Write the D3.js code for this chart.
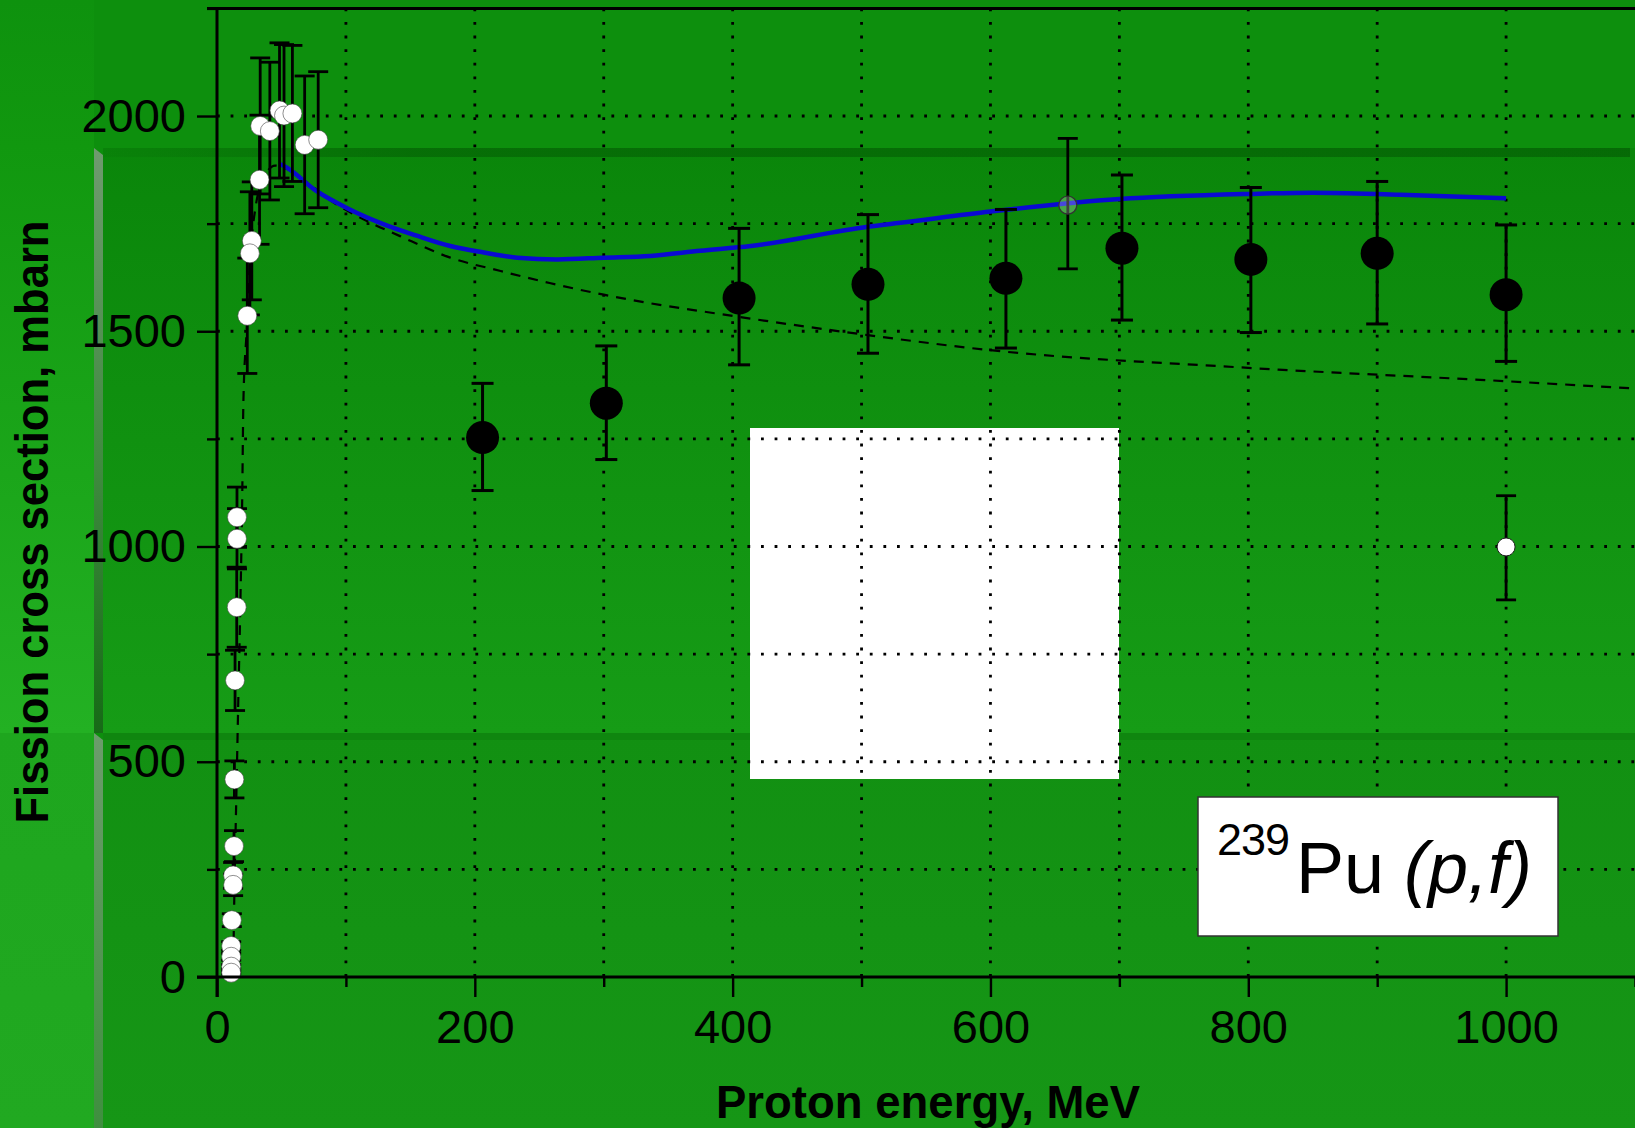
<!DOCTYPE html>
<html>
<head>
<meta charset="utf-8">
<script src="https://cdn.jsdelivr.net/npm/d3@7"></script>
<style>
  html, body { margin: 0; padding: 0; background: #0d8e0d; overflow: hidden; }
  svg { display: block; }
  text { font-family: "Liberation Sans", Arial, Helvetica, sans-serif; }
</style>
</head>
<body>
<svg id="chart" width="1635" height="1128"></svg>
<script>
// ---- Data -------------------------------------------------------------
// Low-energy measurements (open circles): energy MeV, cross section mb, error mb
const lowEnergy = [33.5, 41, 48.5, 52, 58.5, 68, 78.5, 33, 27, 25.5, 23.5,
                   15.5, 15.5, 15.3, 14, 13.5, 13.2, 12.5, 12.5, 11.5, 11, 11, 11, 11];
const lowSigma  = [1977, 1965, 2013, 2001, 2006, 1933, 1945, 1852, 1710, 1681, 1536,
                   1068, 1018, 859, 689, 459, 304, 236, 214, 132, 72, 47, 24, 10];
const lowError  = [158, 160, 157, 165, 158, 160, 158, 150, 137, 143, 134,
                   70, 70, 93, 70, 43, 36, 30, 25, 15, 10, 8, 5, 3];

// High-energy measurements (filled circles) with asymmetric bars
const highEnergy = [206, 302, 405, 505, 612, 702, 802, 900, 1000];
const highSigma  = [1253, 1333, 1577, 1609, 1623, 1693, 1667, 1681, 1585];
const highLow    = [1130, 1202, 1422, 1449, 1461, 1526, 1497, 1517, 1430];
const highHigh   = [1379, 1466, 1739, 1771, 1783, 1863, 1834, 1848, 1747];

// Single hollow point and single open point at 1 GeV
const hollowEnergy = [660];
const hollowSigma  = [1793];
const hollowLow    = [1645];
const hollowHigh   = [1948];
const gevEnergy = [1000];
const gevSigma  = [999];
const gevLow    = [876];
const gevHigh   = [1118];

// Systematics curve (dashed)
const dashEnergy = [12.5, 13.5, 15, 16.5, 18, 19.5, 20.5, 23, 26, 30, 37, 45, 52, 70, 90,
                    111, 142, 181, 220, 258, 300, 336, 388, 500, 600, 800, 1000, 1100];
const dashSigma  = [0, 200, 420, 640, 850, 1100, 1340, 1500, 1680, 1790, 1860, 1885, 1880, 1845, 1800,
                    1764, 1721, 1671, 1640, 1612, 1585, 1565, 1541, 1493, 1456, 1415, 1384, 1367];

// Model calculation (blue)
const modelEnergy = [49, 52, 77, 103, 129, 155, 181, 207, 233, 264, 300, 336, 375, 414,
                     505, 530, 600, 700, 800, 850, 918, 1000];
const modelSigma  = [1888, 1884, 1826, 1783, 1749, 1722, 1698, 1683, 1671, 1667, 1671, 1675, 1687, 1698,
                     1743, 1752, 1778, 1807, 1819, 1822, 1817, 1809];

// Axis ticks
const xMajorTicks = [0, 200, 400, 600, 800, 1000];
const xMinorTicks = [100, 300, 500, 700, 900, 1100];
const yMajorTicks = [0, 500, 1000, 1500, 2000];
const yMinorTicks = [250, 750, 1250, 1750, 2250];
const xGrid = [100, 200, 300, 400, 500, 600, 700, 800, 900, 1000];
const yGrid = [250, 500, 750, 1000, 1250, 1500, 1750, 2000];

// ---- Scales -----------------------------------------------------------
const W = 1635, H = 1128;
const x = d3.scaleLinear().domain([0, 1100]).range([217, 1635]);
const y = d3.scaleLinear().domain([0, 2250]).range([977, 8.4]);

const svg = d3.select("#chart");
const defs = svg.append("defs");

function vGrad(id, stops) {
  const g = defs.append("linearGradient").attr("id", id)
    .attr("x1", 0).attr("y1", 0).attr("x2", 0).attr("y2", 1);
  stops.forEach(s => g.append("stop").attr("offset", s[0]).attr("stop-color", s[1]));
}
function hGrad(id, stops) {
  const g = defs.append("linearGradient").attr("id", id)
    .attr("x1", 0).attr("y1", 0).attr("x2", 1).attr("y2", 0);
  stops.forEach(s => g.append("stop").attr("offset", s[0]).attr("stop-color", s[1])
    .attr("stop-opacity", s[2] === undefined ? 1 : s[2]));
}

vGrad("leftUpper", [[0, "#0e920e"], [0.2, "#11980f"], [1, "#23b123"]]);
vGrad("leftLower", [[0, "#1ea61e"], [1, "#21a921"]]);
vGrad("mainMid", [[0, "#0a860a"], [1, "#169c16"]]);
vGrad("mainLow", [[0, "#129012"], [1, "#169616"]]);
vGrad("barUpper", [[0, "#6f9a6f"], [0.55, "#3f8a3f"], [0.95, "#1a6e1a"], [1, "#176a17"]]);
vGrad("barLower", [[0, "#6c9c6c"], [1, "#3f8f3f"]]);
hGrad("band", [[0, "#045f04", 0.1], [0.2, "#045f04", 0.6], [1, "#045f04", 0.7]]);

// ---- Slide background -------------------------------------------------
const bg = svg.append("g");
bg.append("rect").attr("x", 0).attr("y", 0).attr("width", W).attr("height", H).attr("fill", "#0d8f0d");
bg.append("rect").attr("x", 0).attr("y", 0).attr("width", 94).attr("height", 733).attr("fill", "url(#leftUpper)");
bg.append("rect").attr("x", 0).attr("y", 733).attr("width", 94).attr("height", H - 733).attr("fill", "url(#leftLower)");
bg.append("rect").attr("x", 103).attr("y", 148).attr("width", W - 103).attr("height", 585).attr("fill", "url(#mainMid)");
bg.append("rect").attr("x", 103).attr("y", 733).attr("width", W - 103).attr("height", H - 733).attr("fill", "url(#mainLow)");
bg.append("rect").attr("x", 103).attr("y", 148).attr("width", 1527).attr("height", 9).attr("fill", "url(#band)");
bg.append("rect").attr("x", 103).attr("y", 733).attr("width", W - 103).attr("height", 7).attr("fill", "#0f860f");
bg.append("polygon").attr("points", "94,148 103,155 103,733 94,733").attr("fill", "url(#barUpper)");
bg.append("polygon").attr("points", "94,733 103,740 103,1128 94,1128").attr("fill", "url(#barLower)");

// ---- White inset panel ------------------------------------------------
svg.append("rect").attr("x", 750).attr("y", 428).attr("width", 369).attr("height", 351).attr("fill", "#ffffff");

// ---- Dotted grid ------------------------------------------------------
const grid = svg.append("g").attr("stroke", "#000").attr("stroke-width", 2.8)
  .attr("stroke-dasharray", "2.8 10.8");
grid.selectAll("line.vg").data(xGrid).join("line").attr("class", "vg")
  .attr("x1", d => x(d)).attr("x2", d => x(d)).attr("y1", y(2250)).attr("y2", y(0));
grid.selectAll("line.hg").data(yGrid).join("line").attr("class", "hg")
  .attr("x1", x(0)).attr("x2", W).attr("y1", d => y(d)).attr("y2", d => y(d));

// ---- Curves -----------------------------------------------------------
const curve = d3.line().x(d => x(d[0])).y(d => y(d[1])).curve(d3.curveMonotoneX);
svg.append("path")
  .attr("d", curve(d3.zip(dashEnergy, dashSigma)))
  .attr("fill", "none").attr("stroke", "#000").attr("stroke-width", 2.2)
  .attr("stroke-dasharray", "10 8");

svg.append("path")
  .attr("d", curve(d3.zip(modelEnergy, modelSigma)))
  .attr("fill", "none").attr("stroke", "#0a0ad2").attr("stroke-width", 4.5);

// ---- Error bars -------------------------------------------------------
function errorBars(g, E, lo, hi, cap, sw) {
  const rows = E.map((e, i) => ({ e, lo: lo[i], hi: hi[i] }));
  const eb = g.append("g").attr("stroke", "#000").attr("stroke-width", sw);
  eb.selectAll("line.v").data(rows).join("line")
    .attr("x1", d => x(d.e)).attr("x2", d => x(d.e))
    .attr("y1", d => y(d.hi)).attr("y2", d => y(d.lo));
  eb.selectAll("line.t").data(rows).join("line")
    .attr("x1", d => x(d.e) - cap / 2).attr("x2", d => x(d.e) + cap / 2)
    .attr("y1", d => y(d.hi)).attr("y2", d => y(d.hi));
  eb.selectAll("line.b").data(rows).join("line")
    .attr("x1", d => x(d.e) - cap / 2).attr("x2", d => x(d.e) + cap / 2)
    .attr("y1", d => y(d.lo)).attr("y2", d => y(d.lo));
}

const marks = svg.append("g");
errorBars(marks, lowEnergy,
  lowSigma.map((s, i) => s - lowError[i]),
  lowSigma.map((s, i) => s + lowError[i]), 20, 2.8);
errorBars(marks, highEnergy, highLow, highHigh, 22, 3);
errorBars(marks, hollowEnergy, hollowLow, hollowHigh, 20, 2.8);
errorBars(marks, gevEnergy, gevLow, gevHigh, 20, 2.8);

// ---- Points -----------------------------------------------------------
marks.selectAll("circle.low").data(d3.zip(lowEnergy, lowSigma)).join("circle")
  .attr("class", "low").attr("cx", d => x(d[0])).attr("cy", d => y(d[1])).attr("r", 9.5)
  .attr("fill", "#fff").attr("stroke", "#444").attr("stroke-width", 0.6);

marks.selectAll("circle.high").data(d3.zip(highEnergy, highSigma)).join("circle")
  .attr("class", "high").attr("cx", d => x(d[0])).attr("cy", d => y(d[1])).attr("r", 16.5)
  .attr("fill", "#000");

marks.selectAll("circle.hollow").data(d3.zip(hollowEnergy, hollowSigma)).join("circle")
  .attr("class", "hollow").attr("cx", d => x(d[0])).attr("cy", d => y(d[1])).attr("r", 9)
  .attr("fill", "rgba(255,255,255,0.25)").attr("stroke", "#333").attr("stroke-width", 1.3);

marks.selectAll("circle.gev").data(d3.zip(gevEnergy, gevSigma)).join("circle")
  .attr("class", "gev").attr("cx", d => x(d[0])).attr("cy", d => y(d[1])).attr("r", 9)
  .attr("fill", "#fff").attr("stroke", "#222").attr("stroke-width", 1);

// ---- Axes -------------------------------------------------------------
const axes = svg.append("g");
const tickFont = 47;

const xMajor = axes.append("g").attr("transform", `translate(0,${y(0)})`)
  .call(d3.axisBottom(x).tickValues(xMajorTicks).tickSize(20).tickPadding(13).tickFormat(d3.format("d")));
const xMinor = axes.append("g").attr("transform", `translate(0,${y(0)})`)
  .call(d3.axisBottom(x).tickValues(xMinorTicks).tickSize(10).tickFormat(""));
const yMajor = axes.append("g").attr("transform", `translate(${x(0)},0)`)
  .call(d3.axisLeft(y).tickValues(yMajorTicks).tickSize(20).tickPadding(11).tickFormat(d3.format("d")));
const yMinor = axes.append("g").attr("transform", `translate(${x(0)},0)`)
  .call(d3.axisLeft(y).tickValues(yMinorTicks).tickSize(10).tickFormat(""));

[xMajor, xMinor, yMajor, yMinor].forEach(g => {
  g.select(".domain").remove();
  g.selectAll(".tick line").attr("stroke", "#000").attr("stroke-width", 2.4);
  g.selectAll(".tick text").attr("fill", "#000")
    .style("font-family", '"Liberation Sans", Arial, sans-serif')
    .style("font-size", tickFont + "px");
});

// axis lines and top frame line
axes.append("line").attr("x1", x(0) - 20).attr("x2", W).attr("y1", y(0)).attr("y2", y(0))
  .attr("stroke", "#000").attr("stroke-width", 3);
axes.append("line").attr("x1", x(0)).attr("x2", x(0)).attr("y1", y(2250)).attr("y2", y(0) + 20)
  .attr("stroke", "#000").attr("stroke-width", 3);
axes.append("line").attr("x1", x(0) - 10).attr("x2", W).attr("y1", y(2250)).attr("y2", y(2250))
  .attr("stroke", "#000").attr("stroke-width", 3);

// axis titles
svg.append("text")
  .attr("transform", "translate(48,522) rotate(-90)")
  .attr("text-anchor", "middle")
  .attr("font-size", 46).attr("font-weight", "bold").attr("fill", "#000")
  .attr("textLength", 603).attr("lengthAdjust", "spacingAndGlyphs")
  .text("Fission cross section, mbarn");

svg.append("text")
  .attr("x", 928).attr("y", 1118)
  .attr("text-anchor", "middle")
  .attr("font-size", 46).attr("font-weight", "bold").attr("fill", "#000")
  .attr("textLength", 424).attr("lengthAdjust", "spacingAndGlyphs")
  .text("Proton energy, MeV");

// ---- Reaction label ---------------------------------------------------
const label = svg.append("g");
label.append("rect").attr("x", 1198).attr("y", 797).attr("width", 360).attr("height", 139)
  .attr("fill", "#fff").attr("stroke", "#333").attr("stroke-width", 1.5);
label.append("text").attr("x", 1217).attr("y", 855).attr("font-size", 45).attr("fill", "#000")
  .attr("letter-spacing", -1).text("239");
const main = label.append("text").attr("x", 1296).attr("y", 893).attr("font-size", 72).attr("fill", "#000");
main.append("tspan").text("Pu ");
main.append("tspan").attr("font-style", "italic").text("(p,f)");
</script>
</body>
</html>
